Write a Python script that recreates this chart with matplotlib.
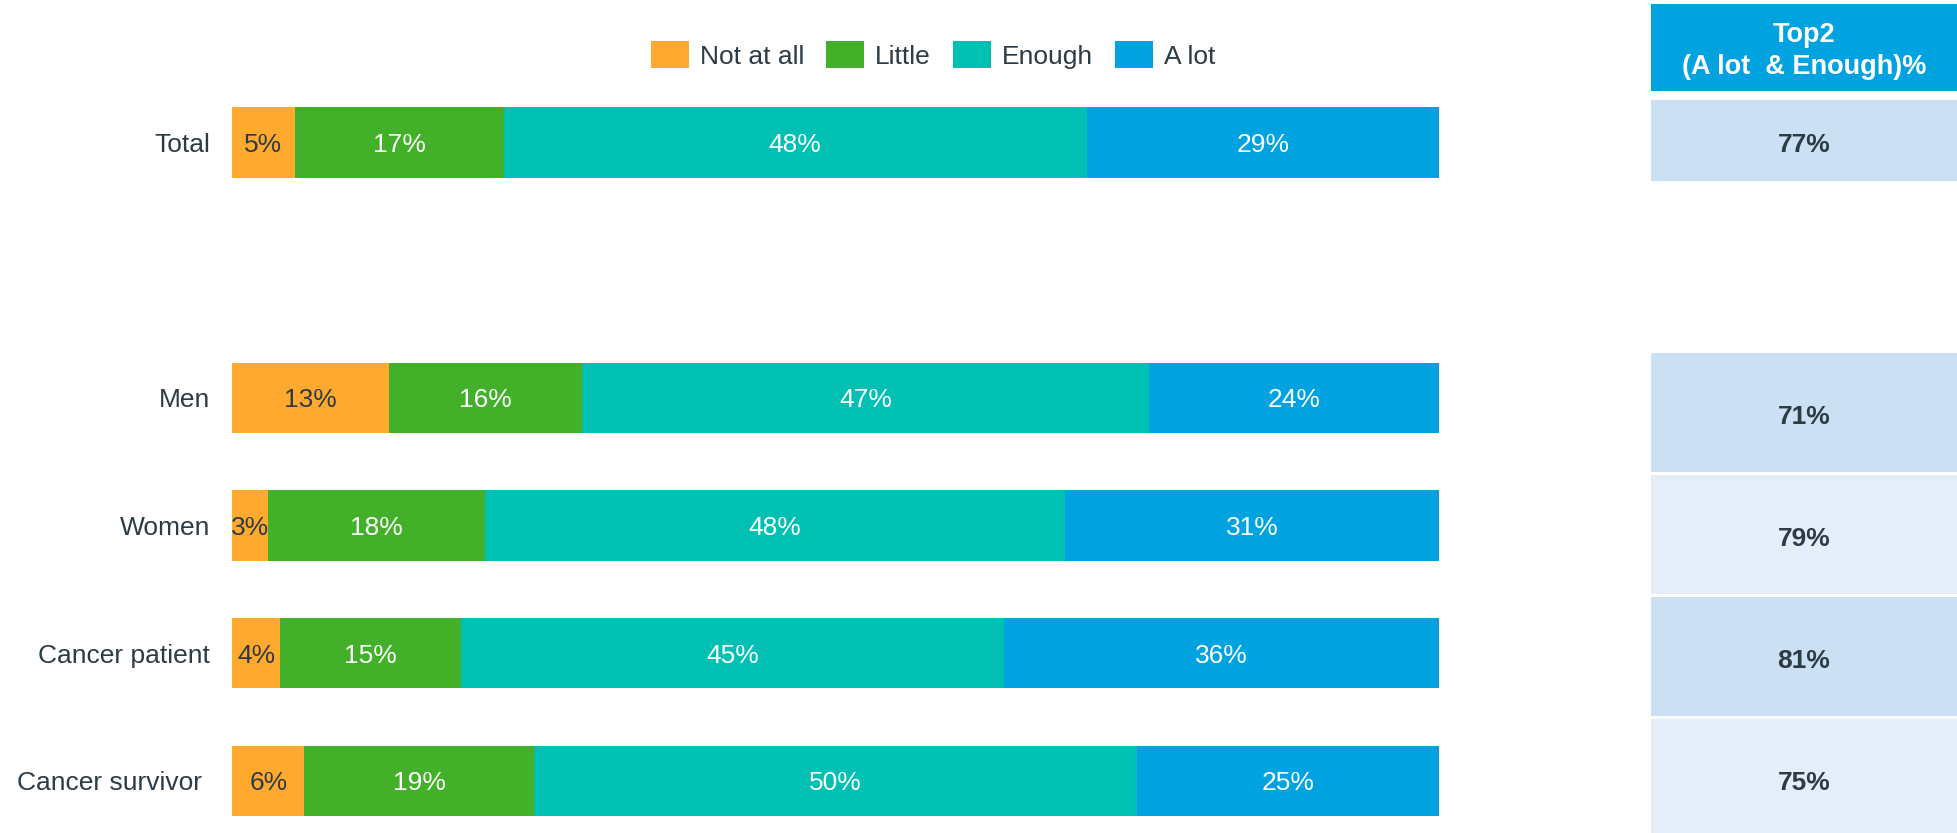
import numpy as np
import matplotlib.pyplot as plt

plt.rcParams['font.family'] = ['Liberation Sans', 'DejaVu Sans']

# data
groups = ['Total', 'Men', 'Women', 'Cancer patient', 'Cancer survivor ']
not_at_all = [5.2, 13, 3, 4, 6]
little = [17.3, 16, 18, 15, 19]
enough = [48.3, 47, 48, 45, 50]
a_lot = [29.2, 24, 31, 36, 25]
top2 = [77, 71, 79, 81, 75]
series_names = ['Not at all', 'Little', 'Enough', 'A lot']
top2_title = 'Top2\n(A lot  & Enough)%'

colors = ['#FFA92E', '#43B02A', '#00BFB3', '#00A3E0']
label_colors = ['#2d3b45', 'white', 'white', 'white']
text_col = '#2d3b45'

W, H = 1957, 833
fig = plt.figure(figsize=(W / 100, H / 100), dpi=100)

# main bar axes (Total sits alone, one empty slot below it)
ax = fig.add_axes([232 / W, 1 / H, (1439 - 232) / W, (832 - 78.6) / H])
ypos = np.array([0, 2, 3, 4, 5])
left = np.zeros(len(groups))
handles = []
for vals, c, lc, name in zip([not_at_all, little, enough, a_lot], colors, label_colors, series_names):
    vals = np.array(vals)
    b = ax.barh(ypos, vals, left=left, height=0.55, color=c, linewidth=0, label=name)
    handles.append(b)
    for y, l, v in zip(ypos, left, vals):
        ax.text(l + v / 2, y, f'{v:.0f}%', ha='center', va='center_baseline', fontsize=19, color=lc)
    left = left + vals

ax.set_xlim(0, 100)
ax.set_ylim(5.4, -0.5)
ax.set_yticks(ypos)
ax.set_yticklabels(groups, fontsize=19, color=text_col, va='center_baseline')
ax.tick_params(axis='y', length=0, pad=16)
ax.set_xticks([])
for s in ax.spines.values():
    s.set_visible(False)

fig.legend(handles=handles, loc='center', bbox_to_anchor=(933 / W, 1 - 55 / H), ncol=4,
           frameon=False, fontsize=19, handlelength=1.44, handleheight=1.17,
           handletextpad=0.42, columnspacing=0.83, labelcolor=text_col)

# Top2 table on the right
tab = fig.add_axes([1651 / W, 0, (W - 1651) / W, 1])
tab.set_xlim(0, 1)
tab.set_ylim(H, 0)
tab.axis('off')
tab.barh(47.5, 1, height=87, left=0, color='#00A3E0')
tab.text(0.5, 50.5, top2_title, ha='center', va='center', fontsize=19.5,
         fontweight='bold', color='white', linespacing=1.3)

cell_centers = [140.5] + [412.5 + 122 * i for i in range(4)]
cell_colors = ['#CCE0F3', '#CCE0F3', '#E5EEF8', '#CCE0F3', '#E5EEF8']
for cy, cc, v in zip(cell_centers, cell_colors, top2):
    hgt = 81 if cy == cell_centers[0] else 119
    tab.barh(cy, 1, height=hgt, left=0, color=cc)
    tab.text(0.5, cy + 2, f'{v}%', ha='center', va='center_baseline', fontsize=19,
             fontweight='bold', color=text_col)

fig.savefig('out.png', dpi=100)
